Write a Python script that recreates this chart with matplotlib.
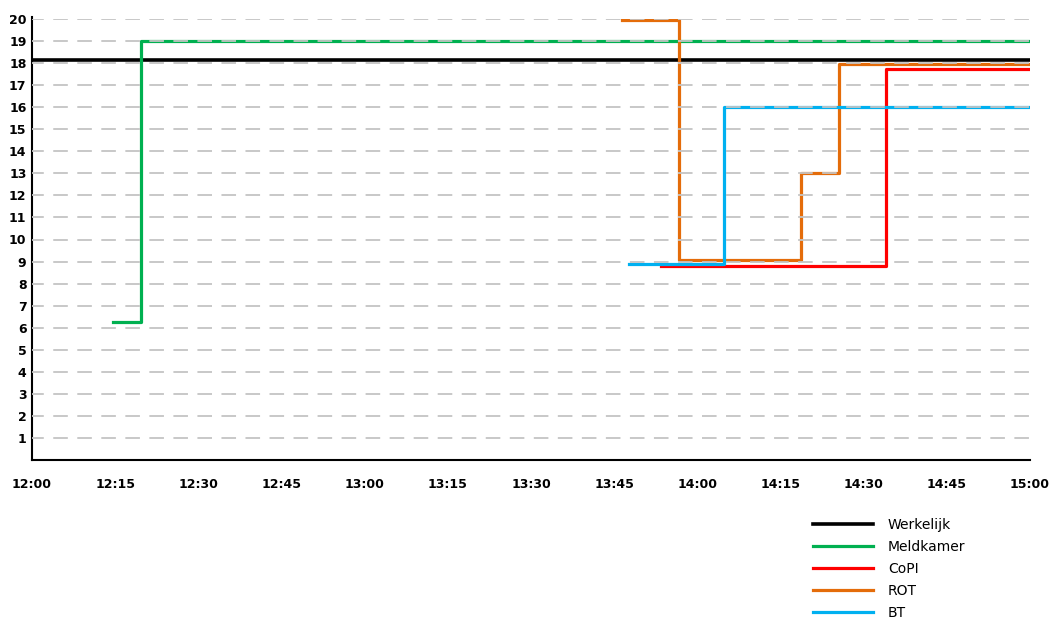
import matplotlib
matplotlib.use("Agg")
import matplotlib.pyplot as plt

# minutes after 12:00 and level, drawn as step lines
werkelijk_t = [0, 180]
werkelijk_v = [18.15, 18.15]
meldkamer_t = [14.6, 19.7, 180]
meldkamer_v = [6.25, 19, 19]
copi_t = [113.4, 154, 180]
copi_v = [8.8, 17.75, 17.75]
rot_t = [106.4, 116.7, 138.7, 145.6, 180]
rot_v = [19.95, 9.05, 13.0, 17.95, 17.95]
bt_t = [107.7, 124.8, 180]
bt_v = [8.9, 16, 16]

xticks = list(range(0, 181, 15))
xlabels = ["12:00", "12:15", "12:30", "12:45", "13:00", "13:15", "13:30",
           "13:45", "14:00", "14:15", "14:30", "14:45", "15:00"]
yticks = list(range(1, 21))

plt.rcParams['lines.scale_dashes'] = False
fig = plt.figure(figsize=(10.49, 6.19), dpi=100)
ax = fig.add_axes([32/1049, 1-460/619, (1030-32)/1049, (460-19)/619])

lw = 2.3
ax.step(werkelijk_t, werkelijk_v, where='post', color='black', lw=2.6, label='Werkelijk')
ax.step(meldkamer_t, meldkamer_v, where='post', color='#00b050', lw=lw, label='Meldkamer')
ax.step(copi_t, copi_v, where='post', color='#ff0000', lw=lw, label='CoPI')
ax.step(rot_t, rot_v, where='post', color='#e46c0a', lw=lw, label='ROT')
ax.step(bt_t, bt_v, where='post', color='#00b0f0', lw=lw, label='BT')

ax.set_xlim(0, 180)
ax.set_ylim(0, 20)
ax.set_xticks(xticks)
ax.set_xticklabels(xlabels, fontweight='bold', fontsize=9)
ax.set_yticks(yticks)
ax.set_yticklabels([str(v) for v in yticks], fontweight='bold', fontsize=9)
ax.tick_params(length=0)
ax.tick_params(axis='x', pad=13)
ax.tick_params(axis='y', pad=4)
ax.set_axisbelow(False)
ax.yaxis.grid(True, color='#c4c4c4', lw=1.3, linestyle=(2, (10.5, 6.8)))
ax.spines['top'].set_visible(False)
ax.spines['right'].set_visible(False)
ax.spines['left'].set_linewidth(1.5)
ax.spines['bottom'].set_linewidth(1.5)
ax.spines['left'].set_bounds(0, 20.1)

fig.legend(loc='upper left', bbox_to_anchor=(813/1049, 1-518/619), frameon=False,
           fontsize=10, handlelength=4.3, handletextpad=1.1, labelspacing=0.57,
           borderpad=0, borderaxespad=0)

fig.savefig('out.png', dpi=100)
